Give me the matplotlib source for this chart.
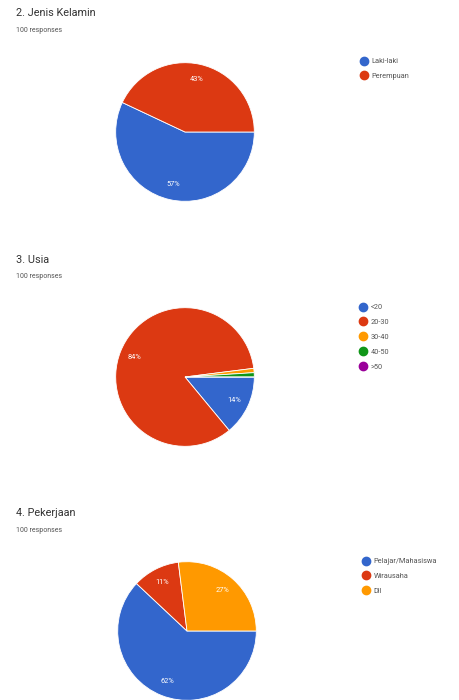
import matplotlib.pyplot as plt
from matplotlib.lines import Line2D

# ---- data ----
titles = ["2. Jenis Kelamin", "3. Usia", "4. Pekerjaan"]
subtitle = "100 responses"

gender_labels = ["Laki-laki", "Perempuan"]
gender_values = [57, 43]

age_labels = ["<20", "20-30", "30-40", "40-50", ">50"]
age_values = [14, 84, 1, 1, 0]

job_labels = ["Pelajar/Mahasiswa", "Wirausaha", "Dll"]
job_values = [62, 11, 27]

palette = ["#3366CC", "#DC3912", "#FF9900", "#109618", "#990099"]

# ---- layout (pixels) ----
W, H = 459, 700
plt.rcParams["font.family"] = ["Roboto", "DejaVu Sans"]
fig = plt.figure(figsize=(W / 100, H / 100), dpi=100)

blocks = [
    # data, labels, title y, pie center (x, y), legend (x, y)
    (gender_values, gender_labels, 13, (185, 132), (361, 58)),
    (age_values, age_labels, 260, (185, 377), (360, 304)),
    (job_values, job_labels, 513, (187, 631), (363, 558)),
]
R = 70


def pct(p):
    return f"{p:.0f}%" if p >= 5 else ""


for (vals, labs, ty, (cx, cy), (lx, ly)), title in zip(blocks, titles):
    fig.text(16 / W, 1 - ty / H, title, fontsize=7.8, color="#333333",
             va="center", ha="left")
    fig.text(16 / W, 1 - (ty + 17) / H, subtitle, fontsize=5,
             color="#555555", va="center", ha="left")

    ax = fig.add_axes([(cx - R) / W, 1 - (cy + R) / H, 2 * R / W, 2 * R / H])
    cols = palette[:len(vals)]
    ax.pie(vals, colors=cols, startangle=0, counterclock=False,
           autopct=pct, pctdistance=0.78, radius=1,
           wedgeprops=dict(edgecolor="white", linewidth=0.6),
           textprops=dict(color="white", fontsize=5.3))
    ax.set_xlim(-1.01, 1.01)
    ax.set_ylim(-1.01, 1.01)
    ax.set_aspect("equal")
    ax.axis("off")

    handles = [Line2D([], [], marker="o", linestyle="", markersize=6,
                      markerfacecolor=c, markeredgecolor=c) for c in cols]
    fig.legend(handles, labs, loc="upper left",
               bbox_to_anchor=(lx / W, 1 - ly / H), frameon=False,
               fontsize=5.3, labelcolor="#555555", handlelength=0.8,
               handletextpad=0.6, labelspacing=1.05, borderpad=0,
               borderaxespad=0)

fig.savefig("out.png", dpi=100, facecolor="white")
